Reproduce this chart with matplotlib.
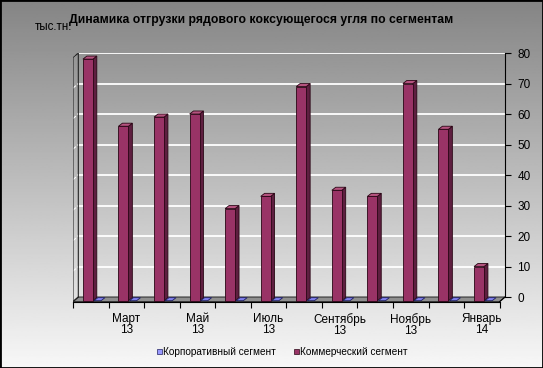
import numpy as np
import matplotlib
matplotlib.use("Agg")
import matplotlib.pyplot as plt
from matplotlib.patches import Polygon, Patch, Rectangle

matplotlib.rcParams.update({'font.family': ['Liberation Sans', 'DejaVu Sans'], 'font.size': 8})

# data
months = ['Фев', 'Март', 'Апр', 'Май', 'Июнь', 'Июль', 'Авг', 'Сентябрь',
          'Окт', 'Ноябрь', 'Дек', 'Январь']
years = ['13', '13', '13', '13', '13', '13', '13', '13', '13', '13', '13', '14']
corporate = [0, 0, 0, 0, 0, 0, 0, 0, 0, 0, 0, 0]
commercial = [78, 56, 59, 60, 29, 33, 69, 35, 33, 70, 55, 10]

c_face, c_side, c_top, c_edge = '#993366', '#5e1f40', '#b5537f', '#2a0615'
b_face, b_side, b_top, b_edge = '#9999ff', '#5555aa', '#8080ee', '#202060'

fig = plt.figure(figsize=(5.43, 3.68), dpi=100)

# gradient background
bg = fig.add_axes([0, 0, 1, 1], zorder=-10)
grad = np.linspace(0.52, 0.97, 256).reshape(-1, 1)
bg.imshow(grad, cmap='gray', vmin=0, vmax=1, aspect='auto', extent=[0, 1, 0, 1])
bg.set_axis_off()
fig.patches.append(Rectangle((0, 0), 1, 1, transform=fig.transFigure, fill=False,
                             edgecolor='black', linewidth=2))

ax = fig.add_axes([0.1344, 0.1804, 0.7956, 0.6755])
ax.patch.set_alpha(0)
x0, y0 = -0.15, -1.5      # front-left corner of floor
dx, dy = 0.15, 1.5        # depth offset
ax.set_xlim(x0, 12)
ax.set_ylim(y0, 80)

# grid lines on back wall
for g in range(10, 90, 10):
    ax.plot([0, 12], [g, g], color='white', lw=1.3, zorder=1)
    ax.plot([x0, x0 + 0.07], [g - dy, g - dy + 0.7], color='white', lw=0.8, zorder=1)

# floor and left wall
ax.add_patch(Polygon([(x0, y0), (12 - dx, y0), (12, 0), (0, 0)], closed=True,
                     facecolor='#8f8f8f', edgecolor='#333333', lw=0.8, zorder=2))
ax.plot([x0, x0, 0, 0], [y0, 80 - dy, 80, 0], color='#222222', lw=0.8, zorder=2)
ax.plot([x0, 0], [y0, 0], color='#222222', lw=0.8, zorder=2)

sw, dd = 0.11, 1.0
for k in range(12):
    # commercial bar
    xl = k + 0.13
    w = 0.28
    v = commercial[k]
    yb = -1.2
    ax.add_patch(Polygon([(xl + w, yb), (xl + w + sw, yb + dd), (xl + w + sw, v + dd), (xl + w, v)],
                         facecolor=c_side, edgecolor=c_edge, lw=0.6, zorder=3))
    ax.add_patch(Polygon([(xl, v), (xl + w, v), (xl + w + sw, v + dd), (xl + sw, v + dd)],
                         facecolor=c_top, edgecolor=c_edge, lw=0.6, zorder=3))
    ax.add_patch(Rectangle((xl, yb), w, v - yb, facecolor=c_face, edgecolor=c_edge, lw=0.6, zorder=3))
    # corporate bar
    xb = k + 0.44
    wb = 0.2
    vb = yb + corporate[k]
    ax.add_patch(Polygon([(xb, vb), (xb + wb, vb), (xb + wb + sw, vb + dd), (xb + sw, vb + dd)],
                         facecolor=b_top, edgecolor=b_edge, lw=0.6, zorder=3))

# axes styling
for s in ['top', 'left']:
    ax.spines[s].set_visible(False)
ax.spines['right'].set_bounds(0, 80)
ax.spines['bottom'].set_bounds(x0, 12 - dx)
ax.plot([12 - dx, 12], [y0, 0], color='black', lw=0.8, clip_on=False, zorder=4)
ax.yaxis.tick_right()
ax.set_yticks(range(0, 90, 10))
ax.tick_params(axis='y', direction='out', length=4, pad=5, labelsize=8.5)

ax.set_xticks([x0 + k for k in range(13)])
ax.set_xticklabels([])
ax.set_xticks([k + 0.35 for k in range(12)], minor=True)
ax.set_xticklabels([f'{m}\n{y}' if k % 2 == 1 else '' for k, (m, y) in enumerate(zip(months, years))],
                   minor=True)
ax.tick_params(axis='x', which='major', direction='out', length=4)
ax.tick_params(axis='x', which='minor', length=0, pad=8, labelsize=8.5)
for t in ax.get_xticklabels(minor=True):
    t.set_linespacing(0.95)

fig.text(0.48, 0.945, 'Динамика отгрузки рядового коксующегося угля по сегментам',
         ha='center', va='center', fontsize=8.8, fontweight='bold')
fig.text(0.064, 0.927, 'тыс.тн.', ha='left', va='center', fontsize=8.3)

handles = [Patch(facecolor=b_face, edgecolor=b_edge, lw=0.5, label='Корпоративный сегмент'),
           Patch(facecolor=c_face, edgecolor=c_edge, lw=0.5, label='Коммерческий сегмент')]
fig.legend(handles=handles, loc='center', bbox_to_anchor=(0.52, 0.043), ncol=2, frameon=False,
           fontsize=7.2, handlelength=0.5, handleheight=0.5, handletextpad=0.1, columnspacing=1.8)

fig.savefig('out.png', dpi=100)
